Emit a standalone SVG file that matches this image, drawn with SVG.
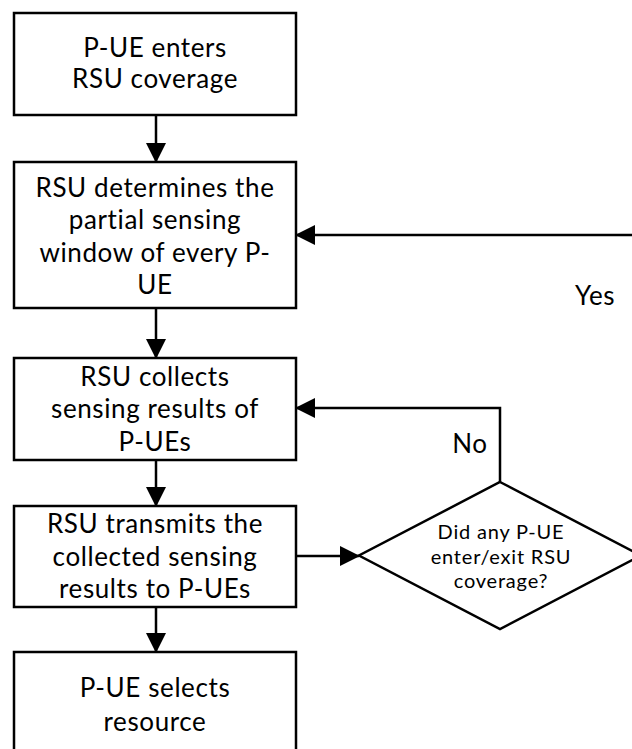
<svg xmlns="http://www.w3.org/2000/svg" width="632" height="749" viewBox="0 0 632 749">
<style>
.box{fill:#fff;stroke:#000;stroke-width:2.5}
.t{font-family:Lato,"Noto Sans",sans-serif;font-size:26px;letter-spacing:0.6px;fill:#000;text-anchor:middle}
.s{font-family:Lato,"Noto Sans",sans-serif;font-size:20px;letter-spacing:0.8px;fill:#000;text-anchor:middle}
.c{fill:none;stroke:#000;stroke-width:2.5}
</style>
<defs>
<marker id="ah" markerUnits="userSpaceOnUse" markerWidth="20" markerHeight="20" refX="19" refY="10" orient="auto">
<path d="M0,0 L20,10 L0,20 z" fill="#000"/>
</marker>
</defs>
<rect width="632" height="749" fill="#fff"/>
<g id="connectors">
<path class="c" d="M156,115 V162" marker-end="url(#ah)"/>
<path class="c" d="M156,308 V358" marker-end="url(#ah)"/>
<path class="c" d="M156,460 V506" marker-end="url(#ah)"/>
<path class="c" d="M156,607 V652" marker-end="url(#ah)"/>
<path class="c" d="M296,556 H359" marker-end="url(#ah)"/>
<path class="c" d="M500,482 V408 H296" marker-end="url(#ah)"/>
<path class="c" d="M641,555.5 H660 V235 H296" marker-end="url(#ah)"/>
<text class="t" x="470" y="453">No</text>
<text class="t" x="595" y="305">Yes</text>
</g>
<g id="n1">
<rect class="box" x="14" y="13" width="282" height="102"/>
<text class="t" x="155" y="57">P-UE enters</text>
<text class="t" x="155" y="88">RSU coverage</text>
</g>
<g id="n2">
<rect class="box" x="14" y="162" width="282" height="146"/>
<text class="t" x="155" y="197">RSU determines the</text>
<text class="t" x="155" y="229">partial sensing</text>
<text class="t" x="155" y="262">window of every P-</text>
<text class="t" x="155" y="294">UE</text>
</g>
<g id="n3">
<rect class="box" x="14" y="358" width="282" height="102"/>
<text class="t" x="155" y="386">RSU collects</text>
<text class="t" x="155" y="418">sensing results of</text>
<text class="t" x="155" y="451">P-UEs</text>
</g>
<g id="n4">
<rect class="box" x="14" y="506" width="282" height="101"/>
<text class="t" x="155" y="533">RSU transmits the</text>
<text class="t" x="155" y="566">collected sensing</text>
<text class="t" x="155" y="598">results to P-UEs</text>
</g>
<g id="n5">
<rect class="box" x="14" y="652" width="282" height="104"/>
<text class="t" x="155" y="697">P-UE selects</text>
<text class="t" x="155" y="731">resource</text>
</g>
<g id="d1">
<polygon class="box" points="500,482 641,555.5 500,629 359,555.5"/>
<text class="s" x="501" y="539">Did any P-UE</text>
<text class="s" x="501" y="564">enter/exit RSU</text>
<text class="s" x="501" y="588">coverage?</text>
</g>
</svg>
